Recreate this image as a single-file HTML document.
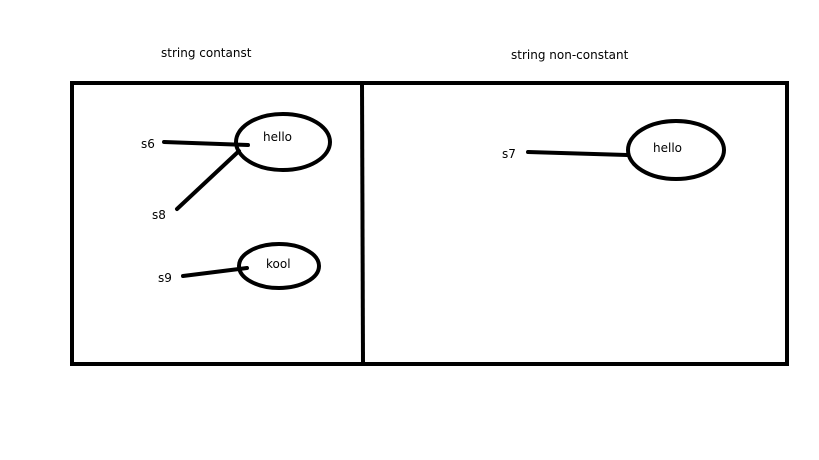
<!DOCTYPE html>
<html><head><meta charset="utf-8"><style>
html,body{margin:0;padding:0;background:#fff;}
svg{display:block;}
text{font-family:"DejaVu Sans","Liberation Sans",sans-serif;font-size:12px;fill:#000;}
</style></head><body>
<svg width="819" height="460" xmlns="http://www.w3.org/2000/svg">
<rect x="0" y="0" width="819" height="460" fill="#fff"/>
<text x="161" y="57">string contanst</text>
<text x="511" y="59">string non-constant</text>
<rect x="72" y="83" width="715" height="281" fill="none" stroke="#000" stroke-width="4"/>
<line x1="362" y1="83" x2="363" y2="364" stroke="#000" stroke-width="4"/>
<ellipse cx="283" cy="142" rx="47" ry="28" fill="none" stroke="#000" stroke-width="4"/>
<ellipse cx="279" cy="266" rx="40" ry="22" fill="none" stroke="#000" stroke-width="4"/>
<ellipse cx="676" cy="150" rx="48" ry="29" fill="none" stroke="#000" stroke-width="4"/>
<g stroke="#000" stroke-width="4" stroke-linecap="round">
<line x1="164" y1="142" x2="248" y2="145"/>
<line x1="177" y1="209" x2="239" y2="151"/>
<line x1="183" y1="276" x2="247" y2="268"/>
<line x1="528" y1="152" x2="627" y2="155"/>
</g>
<text x="263" y="141">hello</text>
<text x="266" y="268">kool</text>
<text x="653" y="152">hello</text>
<text x="141" y="148">s6</text>
<text x="152" y="219">s8</text>
<text x="158" y="282">s9</text>
<text x="502" y="158">s7</text>
</svg>
</body></html>
